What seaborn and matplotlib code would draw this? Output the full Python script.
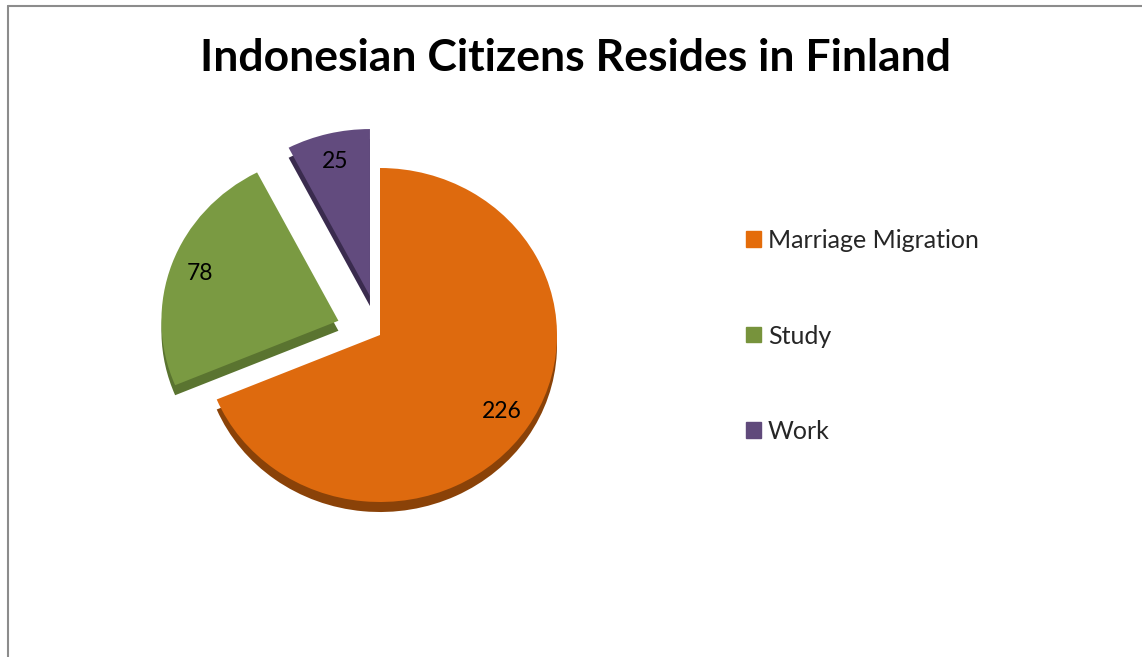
import matplotlib
matplotlib.use("Agg")
import matplotlib.pyplot as plt
from matplotlib.lines import Line2D
import seaborn as sns

categories = ["Marriage Migration", "Study", "Work"]
values = [226, 78, 25]
explode = [0.0, 0.25, 0.24]
top_colors = ["#DE6A0E", "#7A9A42", "#624B7E"]
legend_colors = ["#E46C0A", "#77933C", "#604A7B"]
side_colors = ["#8A4208", "#5A7430", "#3A2B4E"]
title = "Indonesian Citizens Resides in Finland"

sns.set_theme(style="white")
plt.rcParams["font.family"] = ["Lato", "DejaVu Sans"]

W, H = 1142, 657
fig = plt.figure(figsize=(W / 100, H / 100), dpi=100)
fig.patch.set_facecolor("white")
fig.patch.set_edgecolor("white")
fig.patch.set_linewidth(0)

# axes placed so pie centre ~ (380,335) px, radius ~177 x 167 px
cx, cy, rx, ry = 380, 335, 177, 167
ax = fig.add_axes([(cx - 1.5 * rx) / W, (H - cy - 1.5 * ry) / H, 3 * rx / W, 3 * ry / H])

total = sum(values)

# side (depth) layer
ax.pie(values, explode=explode, colors=side_colors, startangle=90, counterclock=False,
       center=(0, -0.06), wedgeprops=dict(linewidth=0, zorder=1))
# top layer
wedges, texts, autotexts = ax.pie(
    values, explode=explode, colors=top_colors, startangle=90, counterclock=False,
    autopct=lambda p: f"{round(p * total / 100)}", pctdistance=0.83,
    wedgeprops=dict(linewidth=0, zorder=2),
    textprops=dict(fontsize=16.5, color="black"))
for t in autotexts:
    t.set_zorder(5)

ax.set_aspect("auto")
ax.set_xlim(-1.5, 1.5)
ax.set_ylim(-1.5, 1.5)
ax.axis("off")

fig.text(575 / W, 1 - 58 / H, title, ha="center", va="center",
         fontsize=32, fontweight="bold", color="black")

handles = [plt.Rectangle((0, 0), 1, 1, color=c) for c in legend_colors]
fig.legend(handles, categories, loc="center left",
           bbox_to_anchor=(746 / W, 1 - 336 / H), frameon=False,
           fontsize=18, handlelength=0.58, handleheight=0.58, handletextpad=0.3,
           labelspacing=2.9, borderpad=0, borderaxespad=0)

# chart-area border (top and left visible)
fig.add_artist(Line2D([8 / W, 8 / W], [0, 1 - 6 / H], color="#8C8C8C", lw=1.5,
                      transform=fig.transFigure))
fig.add_artist(Line2D([8 / W, 1], [1 - 6 / H, 1 - 6 / H], color="#8C8C8C", lw=1.5,
                      transform=fig.transFigure))

fig.savefig("out.png", dpi=100, facecolor="white")
